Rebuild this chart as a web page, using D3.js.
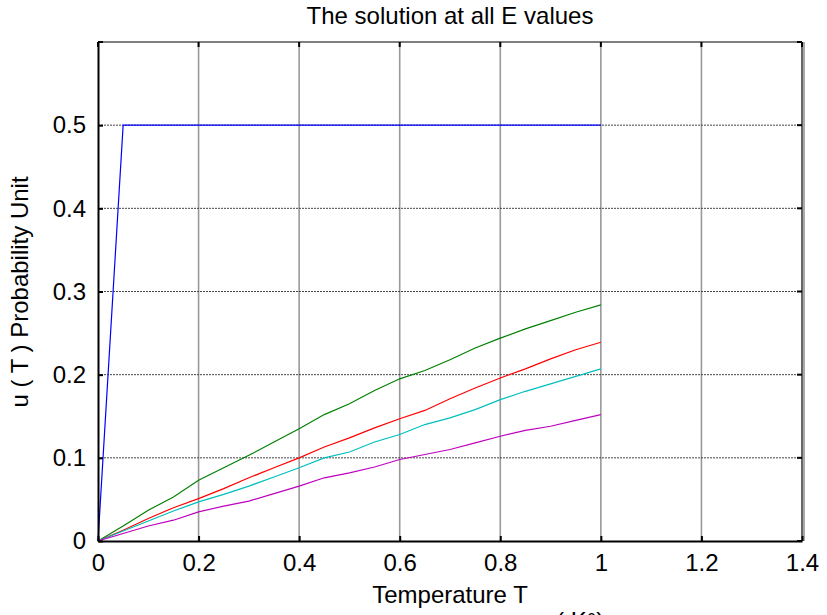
<!DOCTYPE html>
<html>
<head>
<meta charset="utf-8">
<script src="https://cdn.jsdelivr.net/npm/d3@7"></script>
<style>
	body { margin: 0; background: white; }
	svg { display: block; font-family: "Liberation Sans", Arial, sans-serif; }
</style>
</head>
<body>
<svg id="plot" width="827" height="615"></svg>
<script>

// sample positions (temperature T)
const temps = [0, 0.05, 0.1, 0.15, 0.2, 0.25, 0.3, 0.35, 0.4, 0.45, 0.5,
	0.55, 0.6, 0.65, 0.7, 0.75, 0.8, 0.85, 0.9, 0.95, 1];

// u(T) for each E value
const u_blue = [0, 0.5, 0.5, 0.5, 0.5, 0.5, 0.5, 0.5, 0.5, 0.5, 0.5,
	0.5, 0.5, 0.5, 0.5, 0.5, 0.5, 0.5, 0.5, 0.5, 0.5];
const u_green = [0, 0.018, 0.037, 0.053, 0.073, 0.088, 0.103, 0.119, 0.135, 0.152, 0.165,
	0.181, 0.195, 0.205, 0.218, 0.232, 0.244, 0.255, 0.265, 0.275, 0.284];
const u_red = [0, 0.013, 0.027, 0.040, 0.051, 0.063, 0.076, 0.088, 0.100, 0.113, 0.124,
	0.136, 0.147, 0.157, 0.171, 0.184, 0.196, 0.207, 0.219, 0.230, 0.239];
const u_cyan = [0, 0.012, 0.024, 0.036, 0.047, 0.056, 0.066, 0.077, 0.088, 0.100, 0.107,
	0.119, 0.128, 0.140, 0.148, 0.158, 0.170, 0.180, 0.189, 0.198, 0.207];
const u_magenta = [0, 0.009, 0.018, 0.025, 0.035, 0.042, 0.048, 0.057, 0.066, 0.076, 0.082,
	0.089, 0.098, 0.104, 0.110, 0.118, 0.126, 0.133, 0.138, 0.145, 0.152];

const x_ticks = [0, 0.2, 0.4, 0.6, 0.8, 1, 1.2, 1.4];
const y_ticks = [0, 0.1, 0.2, 0.3, 0.4, 0.5];
const y_marks = [0, 0.1, 0.2, 0.3, 0.4, 0.5, 0.6];

const series = [
	{ values: u_blue, color: "#0000ff" },
	{ values: u_green, color: "#008000" },
	{ values: u_red, color: "#ff0000" },
	{ values: u_cyan, color: "#00bfbf" },
	{ values: u_magenta, color: "#bf00bf" }
];

const svg = d3.select("#plot");

const plot_left = 98, plot_right = 802, plot_top = 42, plot_bottom = 541;

const x = d3.scaleLinear().domain([0, 1.4]).range([plot_left, plot_right]);
const y = d3.scaleLinear().domain([0, 0.6]).range([plot_bottom, plot_top]);

// grid
const grid = svg.append("g");
grid.selectAll(".vgrid")
	.data(x_ticks.slice(1, -1))
	.enter()
	.append("line")
	.attr("x1", d => x(d)).attr("x2", d => x(d))
	.attr("y1", plot_top).attr("y2", plot_bottom)
	.attr("stroke", "#999")
	.attr("stroke-width", 1.6);

grid.selectAll(".hgrid")
	.data(y_ticks.slice(1))
	.enter()
	.append("line")
	.attr("x1", plot_left).attr("x2", plot_right)
	.attr("y1", d => y(d)).attr("y2", d => y(d))
	.attr("stroke", "#444")
	.attr("stroke-width", 1)
	.attr("stroke-dasharray", "2,1");

// lines
const line = d3.line()
	.x((d, i) => x(temps[i]))
	.y(d => y(d));

svg.append("g").selectAll("path")
	.data(series)
	.enter()
	.append("path")
	.attr("d", d => line(d.values))
	.attr("fill", "none")
	.attr("stroke", d => d.color)
	.attr("stroke-width", 1.2);

// box
svg.append("line").attr("x1", plot_left).attr("x2", plot_right).attr("y1", plot_top).attr("y2", plot_top)
	.attr("stroke", "black").attr("stroke-width", 1.2);
svg.append("line").attr("x1", plot_right + 2).attr("x2", plot_right + 2).attr("y1", plot_top).attr("y2", plot_bottom)
	.attr("stroke", "#aaa").attr("stroke-width", 2);
svg.append("line").attr("x1", plot_right).attr("x2", plot_right).attr("y1", plot_top).attr("y2", plot_bottom)
	.attr("stroke", "#333").attr("stroke-width", 1.5);

// axes with inward ticks
const x_axis = d3.axisBottom(x)
	.tickValues(x_ticks)
	.tickFormat(d3.format("~g"))
	.tickSizeInner(-5)
	.tickSizeOuter(0)
	.tickPadding(13);

const x_g = svg.append("g")
	.attr("transform", "translate(0," + plot_bottom + ")")
	.call(x_axis);

const y_axis = d3.axisLeft(y)
	.tickValues(y_ticks)
	.tickFormat(d3.format("~g"))
	.tickSizeInner(-5)
	.tickSizeOuter(0)
	.tickPadding(12);

const y_g = svg.append("g")
	.attr("transform", "translate(" + plot_left + ",0)")
	.call(y_axis);

[x_g, y_g].forEach(g => {
	g.select(".domain").attr("stroke", "black").attr("stroke-width", 2);
	g.selectAll(".tick line").attr("stroke", "black").attr("stroke-width", 2);
	g.selectAll(".tick text")
		.attr("fill", "black")
		.style("font-size", "24px")
		.style("font-family", "'Liberation Sans', Arial, sans-serif");
});

// top and right tick marks
svg.append("g").selectAll("line")
	.data(x_ticks)
	.enter()
	.append("line")
	.attr("x1", d => x(d)).attr("x2", d => x(d))
	.attr("y1", plot_top).attr("y2", plot_top + 5)
	.attr("stroke", "black").attr("stroke-width", 2);

svg.append("g").selectAll("line")
	.data(y_marks)
	.enter()
	.append("line")
	.attr("x1", plot_right - 5).attr("x2", plot_right)
	.attr("y1", d => y(d)).attr("y2", d => y(d))
	.attr("stroke", "black").attr("stroke-width", 2);

svg.append("g").selectAll("line")
	.data([0.6])
	.enter()
	.append("line")
	.attr("x1", plot_left).attr("x2", plot_left + 5)
	.attr("y1", d => y(d)).attr("y2", d => y(d))
	.attr("stroke", "black").attr("stroke-width", 2);

// labels
svg.append("text")
	.attr("x", 450)
	.attr("y", 24)
	.attr("text-anchor", "middle")
	.style("font-size", "24px")
	.text("The solution at all E values");

svg.append("text")
	.attr("x", 450)
	.attr("y", 603)
	.attr("text-anchor", "middle")
	.style("font-size", "24px")
	.text("Temperature T");

// second line of the x label, cut off at the bottom edge as in the original
svg.append("text")
	.attr("x", 556)
	.attr("y", 629)
	.style("font-size", "24px")
	.text("( K\u00B0)");

svg.append("text")
	.attr("transform", "translate(28,292) rotate(-90)")
	.attr("text-anchor", "middle")
	.style("font-size", "24px")
	.text("u ( T ) Probability Unit");

</script>
</body>
</html>
